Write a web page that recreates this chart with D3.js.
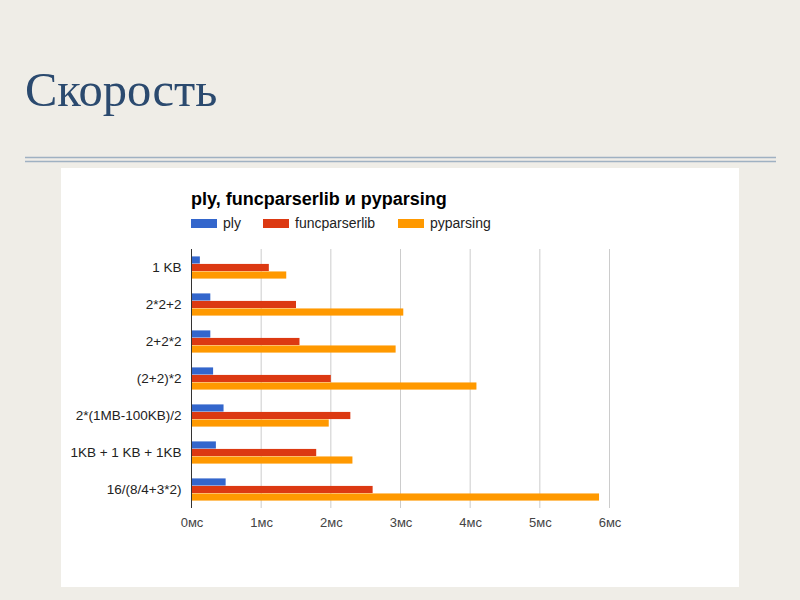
<!DOCTYPE html>
<html>
<head>
<meta charset="utf-8">
<script src="https://cdnjs.cloudflare.com/ajax/libs/d3/7.8.5/d3.min.js"></script>
<style>
  body { margin: 0; background: #efede7; }
  svg { display: block; }
</style>
</head>
<body>
<svg id="slide" width="800" height="600"></svg>
<script>
// Chart data
const categories = ["1 KB", "2*2+2", "2+2*2", "(2+2)*2", "2*(1MB-100KB)/2", "1KB + 1 KB + 1KB", "16/(8/4+3*2)"];
const seriesNames = ["ply", "funcparserlib", "pyparsing"];
const plyValues = [0.12, 0.27, 0.27, 0.31, 0.46, 0.35, 0.49];
const funcparserlibValues = [1.11, 1.50, 1.55, 2.00, 2.28, 1.79, 2.60];
const pyparsingValues = [1.36, 3.04, 2.93, 4.09, 1.97, 2.31, 5.85];
const xTicks = [0, 1, 2, 3, 4, 5, 6];
const colors = ["#3366cc", "#dc3912", "#ff9900"];

const svg = d3.select("#slide");

// Slide title and double rule
svg.append("text")
    .attr("x", 25)
    .attr("y", 106)
    .attr("font-family", "Liberation Serif, serif")
    .attr("font-size", "48.5px")
    .attr("fill", "#2b4a6f")
    .text("Скорость");

[157.5, 161.5].forEach(y => {
    svg.append("line")
        .attr("x1", 25).attr("x2", 776)
        .attr("y1", y).attr("y2", y)
        .attr("stroke", "#9fb1c2")
        .attr("stroke-width", 1.5);
});

// White chart panel
svg.append("rect")
    .attr("x", 61).attr("y", 168)
    .attr("width", 678).attr("height", 419)
    .attr("fill", "#ffffff");

// Chart title
svg.append("text")
    .attr("x", 191)
    .attr("y", 205)
    .attr("font-family", "Arial, Liberation Sans, sans-serif")
    .attr("font-size", "18px")
    .attr("font-weight", "bold")
    .attr("fill", "#000")
    .text("ply, funcparserlib и pyparsing");

// Legend
const legendX = [191, 263, 398];
seriesNames.forEach((name, i) => {
    const g = svg.append("g").attr("transform", `translate(${legendX[i]},219)`);
    g.append("rect").attr("width", 26).attr("height", 9).attr("fill", colors[i]);
    g.append("text")
        .attr("x", 32).attr("y", 9)
        .attr("font-family", "Arial, Liberation Sans, sans-serif")
        .attr("font-size", "14px")
        .attr("fill", "#222")
        .text(name);
});

// Scales
const plotLeft = 191.5, plotRight = 609.5, plotTop = 249, plotBottom = 508;

const x = d3.scaleLinear().domain([0, 6]).range([plotLeft, plotRight]);
const y = d3.scaleBand().domain(categories).range([plotTop, plotBottom]).paddingInner(0.38).paddingOuter(0.19);
const ySub = d3.scaleBand().domain(seriesNames).range([0, y.bandwidth()]).padding(0.05);

// Gridlines
svg.append("g")
    .selectAll("line")
    .data(xTicks.slice(1))
    .enter()
    .append("line")
    .attr("x1", d => x(d)).attr("x2", d => x(d))
    .attr("y1", plotTop).attr("y2", plotBottom)
    .attr("stroke", "#cccccc")
    .attr("stroke-width", 1);

// Bars
const rows = categories.map((c, i) => ({
    category: c,
    values: [plyValues[i], funcparserlibValues[i], pyparsingValues[i]]
}));

svg.append("g")
    .selectAll("g")
    .data(rows)
    .enter()
    .append("g")
    .attr("transform", d => `translate(0,${y(d.category)})`)
    .selectAll("rect")
    .data(d => d.values.map((v, i) => ({ series: seriesNames[i], value: v, i })))
    .enter()
    .append("rect")
    .attr("x", x(0))
    .attr("y", d => ySub(d.series))
    .attr("width", d => x(d.value) - x(0))
    .attr("height", ySub.bandwidth())
    .attr("fill", d => colors[d.i]);

// Baseline
svg.append("line")
    .attr("x1", x(0)).attr("x2", x(0))
    .attr("y1", plotTop).attr("y2", plotBottom)
    .attr("stroke", "#333")
    .attr("stroke-width", 1);

// X axis labels
const xAxis = d3.axisBottom(x)
    .tickValues(xTicks)
    .tickFormat(d => d + "мс")
    .tickSize(0)
    .tickPadding(10);

const xg = svg.append("g")
    .attr("transform", `translate(0,${plotBottom})`)
    .call(xAxis);
xg.select(".domain").remove();
xg.selectAll("text")
    .attr("font-family", "Arial, Liberation Sans, sans-serif")
    .attr("font-size", "13px")
    .attr("fill", "#444");

// Y axis labels
const yAxis = d3.axisLeft(y).tickSize(0).tickPadding(10);
const yg = svg.append("g")
    .attr("transform", `translate(${plotLeft},0)`)
    .call(yAxis);
yg.select(".domain").remove();
yg.selectAll("text")
    .attr("font-family", "Arial, Liberation Sans, sans-serif")
    .attr("font-size", "13.5px")
    .attr("fill", "#222");
</script>
</body>
</html>
